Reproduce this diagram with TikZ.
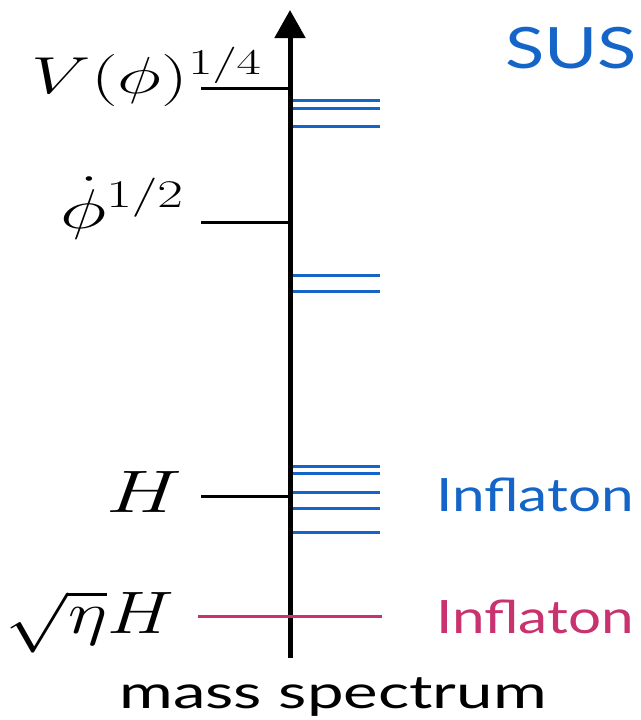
\documentclass[tikz,border=0pt]{standalone}
\usepackage{fix-cm}
\usepackage{amsmath,amssymb}
\usepackage{fontspec}
\newfontfamily\labelfont{Lato}
\usepackage{xcolor}
\usepackage{tikz}
\usetikzlibrary{positioning,arrows.meta}
\definecolor{SPblue}{RGB}{21,101,200}
\definecolor{SPpink}{RGB}{200,50,110}

\begin{document}
\begin{tikzpicture}[
  x=1pt,y=-1pt,
  axis/.style={line width=5pt,-{Triangle[length=28pt,width=30pt]}},
  tick/.style={line width=3pt,draw=black},
  susy/.style={line width=3pt,draw=SPblue},
  infl/.style={line width=3pt,draw=SPpink},
  masslab/.style={inner sep=0pt,xscale=1.42,anchor=base east,font=\fontsize{56}{64}\selectfont},
  tag/.style={inner sep=0pt,xscale=1.27,font=\labelfont\fontsize{46}{52}\selectfont},
]
\useasboundingbox (0,0) rectangle (640,720);

% Achse
\coordinate (base) at (290,658);
\coordinate (top) at (290,10);
\draw[axis] (base) -- (top);

% Skalen links
\coordinate (vL) at (201,88);
\coordinate (dL) at (201,222);
\coordinate (hL) at (201,496);
\coordinate (eL) at (198,616);
\coordinate (eR) at (382,616);
\draw[tick] (vL) -- (vL -| base);
\draw[tick] (dL) -- (dL -| base);
\draw[tick] (hL) -- (hL -| base);
\draw[infl] (eL) -- (eR);

\node[masslab,xscale=1.45/1.42,font=\fontsize{52}{60}\selectfont] (vlab) at (262,93) {$V(\phi)^{1/4}$};
\node[masslab] (dlab) at (184,228) {$\dot\phi^{1/2}$};
\node[masslab,font=\fontsize{60}{68}\selectfont] (hlab) at (182,512) {$H$};
\node[masslab,xscale=1.25/1.42,font=\fontsize{60}{68}\selectfont] (elab) at (174,633) {$\sqrt{\eta}H$};

% Spektrum rechts
\foreach \y in {100,108,126,275,291,466,473,492,508,532}
  \draw[susy] (293,\y) -- (380,\y);

\node[tag,text=SPblue,anchor=base west,font=\labelfont\fontsize{57}{64}\selectfont] (susytag) at (505,68) {SUS};
\node[tag,text=SPblue,anchor=base west] (ftag) at (436,511) {Inflaton};
\node[tag,text=SPpink,anchor=base west] (itag) at (436,633) {Inflaton};
\node[tag,text=black,anchor=base,xscale=1.42/1.27] (xlab) at (333,708) {mass spectrum};

\end{tikzpicture}
\end{document}
